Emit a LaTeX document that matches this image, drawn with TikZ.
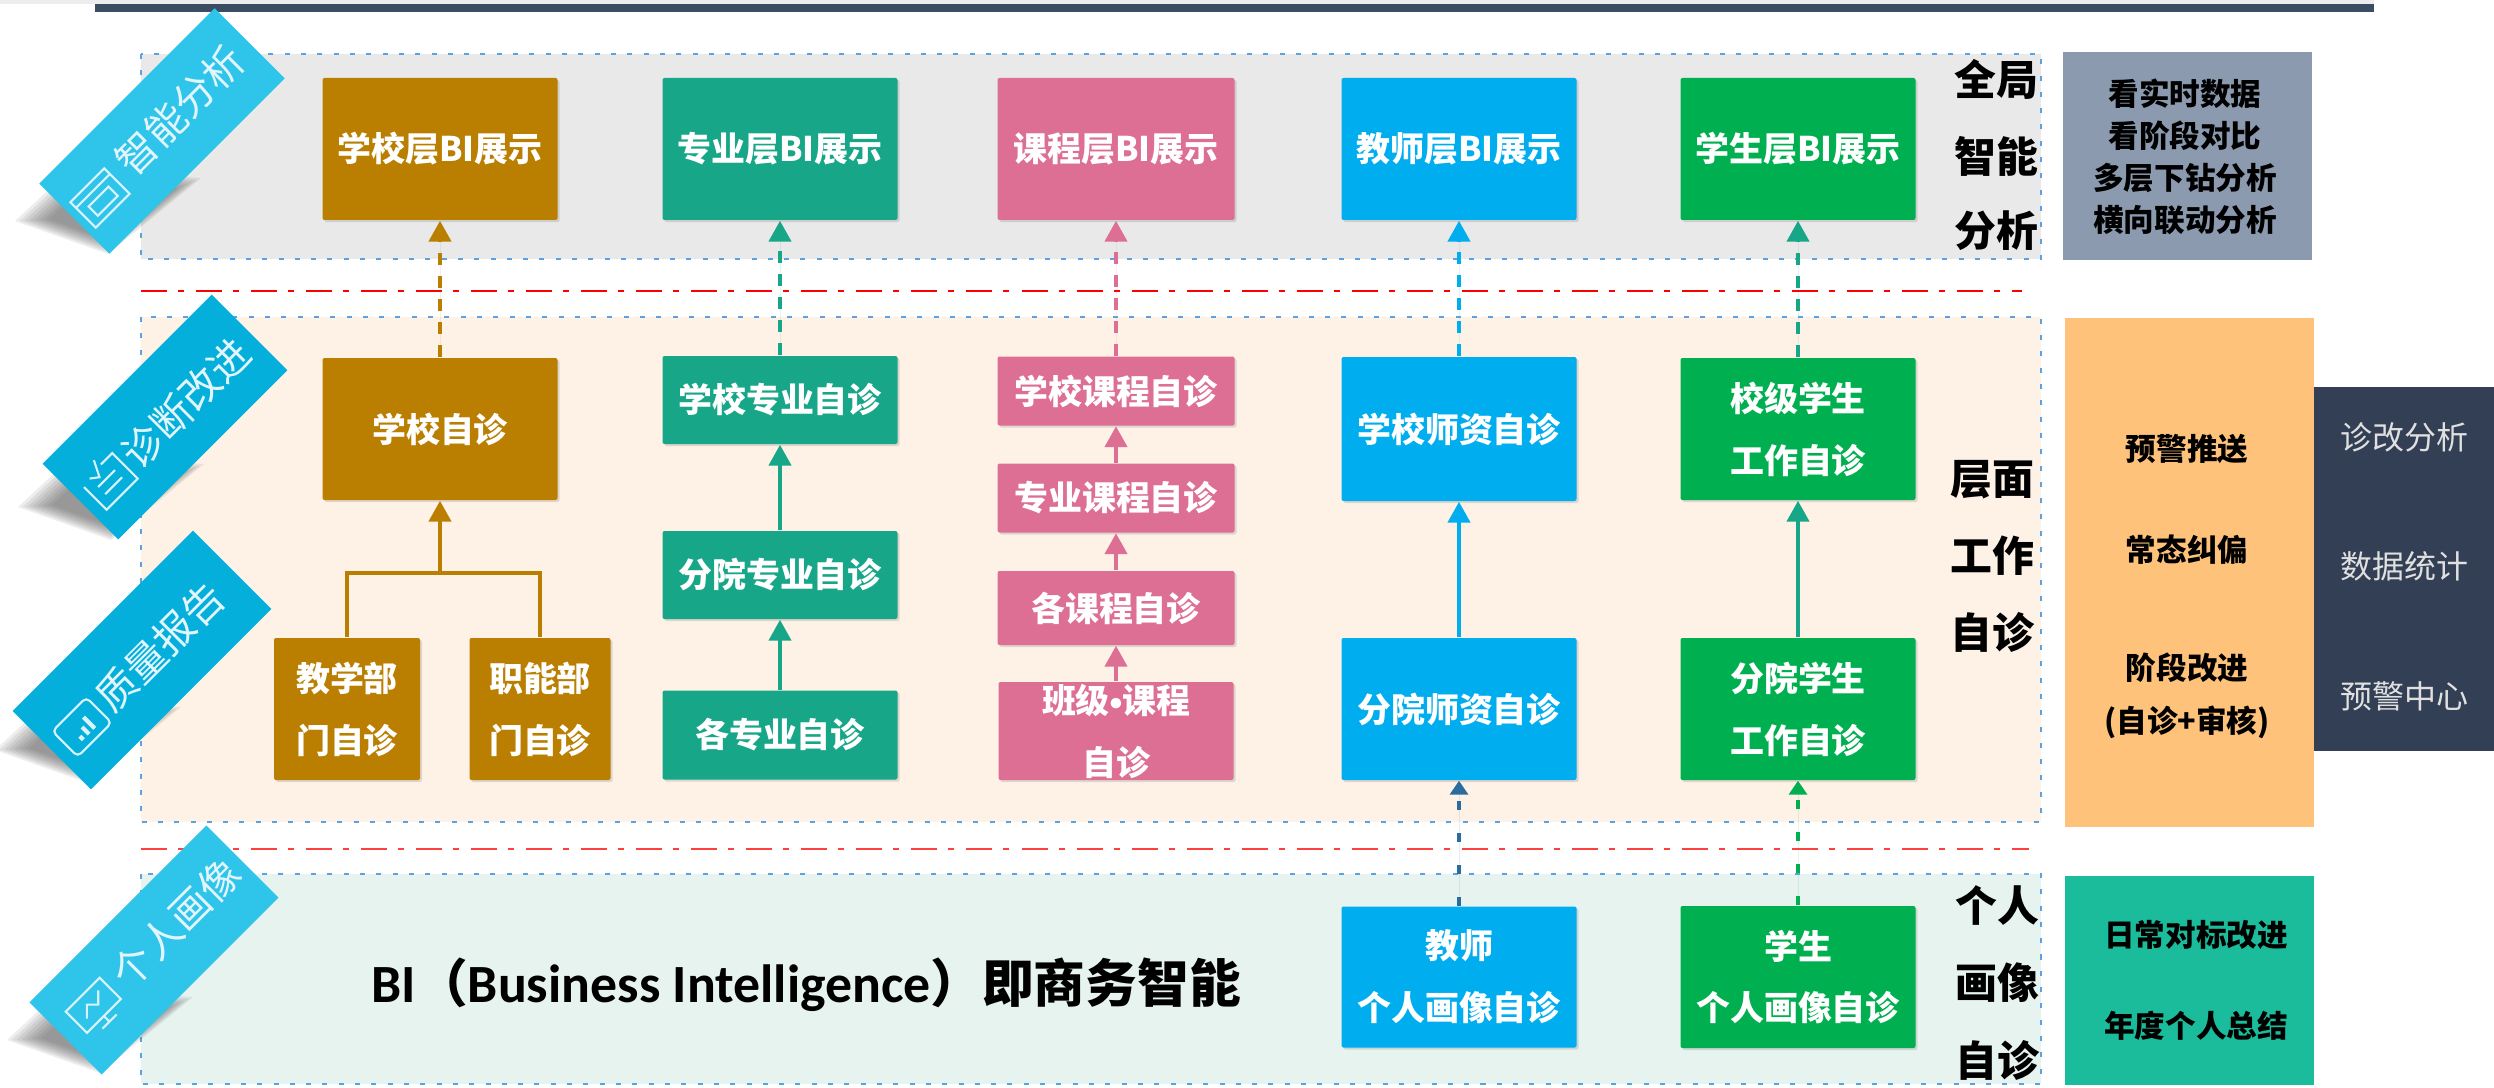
\documentclass[tikz,border=0pt]{standalone}
\usepackage{fontspec}
\setmainfont{Noto Sans CJK SC}
\newfontfamily\latinfont{Carlito}
\usetikzlibrary{arrows.meta,shadows}
\definecolor{brownbox}{HTML}{BA7F00}
\definecolor{tealbox}{HTML}{18A689}
\definecolor{pinkbox}{HTML}{DC6F93}
\definecolor{bluebox}{HTML}{00ADEF}
\definecolor{greenbox}{HTML}{00B050}
\definecolor{darkblue}{HTML}{2A6C9E}
\definecolor{ribbonA}{HTML}{2FC4EA}
\definecolor{ribbonB}{HTML}{05AFDB}
\definecolor{topbar}{HTML}{3B4D63}
\definecolor{panelgrey}{HTML}{E9E9E9}
\definecolor{panelcream}{HTML}{FEF2E7}
\definecolor{panelmint}{HTML}{E7F3EF}
\definecolor{dotblue}{HTML}{5BA3E0}
\definecolor{notegrey}{HTML}{8C9AB0}
\definecolor{noteorange}{HTML}{FFC27A}
\definecolor{notedark}{HTML}{323F54}
\definecolor{noteteal}{HTML}{1ABC9C}
\tikzset{
  wh/.style 2 args={minimum width=#1*.01cm, minimum height=#2*.01cm},
  dotline/.style={draw=dotblue, line width=.66pt, dash pattern=on .05cm off .113cm},
  redline/.style={line width=.75pt, dash pattern=on .26cm off .11cm on .06cm off .12cm},
  box/.style={rectangle, rounded corners=.02cm, inner sep=0pt, text=white, align=center,
    font=\bfseries\fontsize{9.65}{17.6}\selectfont,
    drop shadow={shadow xshift=.02cm, shadow yshift=-.02cm, opacity=.25, fill=gray}},
  sidetext/.style={inner sep=0pt, font=\bfseries\fontsize{11.9}{12}\selectfont},
  notetext/.style={inner sep=0pt, align=center, font=\bfseries\fontsize{8.7}{12}\selectfont},
  darktext/.style={inner sep=0pt, text=white!88!black, font=\fontsize{9.1}{11}\selectfont},
  ribbon/.style={rectangle, rotate=45, inner sep=0pt},
  ribbontext/.style={inner sep=0pt, rotate=45, text=white!88!cyan, font=\fontsize{11.5}{13}\selectfont},
  iconline/.style={draw=white!85!cyan, line width=.6pt},
  solidarrow/.style={-{Triangle[width=.22cm,length=.21cm]}, draw=#1, fill=#1, line width=1.25pt},
  dasharrow/.style={solidarrow=#1, dash pattern=on .12cm off .11cm},
  lowarrow/.style={-{Triangle[width=.18cm,length=.14cm]}, draw=#1, fill=#1, line width=1.25pt,
    dash pattern=on .09cm off .23cm}
}
\newcommand{\ribbonshadow}[2]{%
  \foreach \s in {1,.95,.9,.85,.8,.75,.7,.65}
    \fill[black!70, opacity=.1, shift={(#1,#2)}, scale around={\s:(-50,85)}]
      (-147,90) -- (-54,123) -- (39,47) -- (-92,39) -- cycle;}
\newcommand{\capword}[1]{{\latinfont\fontsize{15.3}{16}\selectfont #1}}
\begin{document}
\begin{tikzpicture}[x=.01cm,y=-.01cm]
  \useasboundingbox (0,0) rectangle (2494,1088);

  % Top bar
  \fill[black!7] (0,0) rectangle (2374,4);
  \fill[topbar] (95,4) rectangle (2374,12);

  % Layers
  \fill[panelgrey] (141,54) rectangle (2041,259);
  \draw[dotline] (141,54) rectangle (2041,259);
  \fill[panelcream] (141,317) rectangle (2041,822);
  \draw[dotline] (141,317) rectangle (2041,822);
  \fill[panelmint] (141,874) rectangle (2041,1084);
  \draw[dotline] (141,874) rectangle (2041,1084);

  % Separators
  \coordinate (sepA) at (141,291);
  \coordinate (sepB) at (2022,291);
  \coordinate (sepC) at (141,849);
  \coordinate (sepD) at (2029,849);
  \draw[redline, red] (sepA) -- (sepB);
  \draw[redline, red!75!white] (sepC) -- (sepD);

  % BI row
  \node[box, fill=brownbox, wh={235}{142}] (biSchool) at (440,149) {学校层BI展示};
  \node[box, fill=tealbox, wh={235}{142}] (biMajor) at (780,149) {专业层BI展示};
  \node[box, fill=pinkbox, wh={237}{142}] (biCourse) at (1116,149) {课程层BI展示};
  \node[box, fill=bluebox, wh={235}{142}] (biTeacher) at (1459,149) {教师层BI展示};
  \node[box, fill=greenbox, wh={235}{142}] (biStudent) at (1798,149) {学生层BI展示};

  % School column
  \node[box, fill=brownbox, wh={235}{142}] (school) at (440,429) {学校自诊};
  \node[box, fill=brownbox, wh={146}{142}] (teachDept) at (347,709) {教学部\\门自诊};
  \node[box, fill=brownbox, wh={141}{142}] (funcDept) at (540,709) {职能部\\门自诊};
  \coordinate (fork) at (440,573);

  % Major column
  \node[box, fill=tealbox, wh={235}{88}] (majorA) at (780,400) {学校专业自诊};
  \node[box, fill=tealbox, wh={235}{88}] (majorB) at (780,575) {分院专业自诊};
  \node[box, fill=tealbox, wh={235}{89}] (majorC) at (780,735) {各专业自诊};

  % Course column
  \node[box, fill=pinkbox, wh={237}{69}] (courseA) at (1116,391) {学校课程自诊};
  \node[box, fill=pinkbox, wh={237}{69}] (courseB) at (1116,498) {专业课程自诊};
  \node[box, fill=pinkbox, wh={237}{74}] (courseC) at (1116,608) {各课程自诊};
  \node[box, fill=pinkbox, wh={235}{98}] (courseD) at (1116,731)
    {班级\raisebox{.8pt}{\latinfont\fontsize{7}{7}\selectfont•}课程\\自诊};

  % Teacher column
  \node[box, fill=bluebox, wh={235}{144}] (teacherA) at (1459,429) {学校师资自诊};
  \node[box, fill=bluebox, wh={235}{142}] (teacherB) at (1459,709) {分院师资自诊};
  \node[box, fill=bluebox, wh={235}{141}] (teacherC) at (1459,977) {教师\\个人画像自诊};

  % Student column
  \node[box, fill=greenbox, wh={235}{142}] (studentA) at (1798,429) {校级学生\\工作自诊};
  \node[box, fill=greenbox, wh={235}{142}] (studentB) at (1798,709) {分院学生\\工作自诊};
  \node[box, fill=greenbox, wh={235}{142}] (studentC) at (1798,977) {学生\\个人画像自诊};

  % Arrows
  \draw[dasharrow=brownbox] (school) -- (biSchool);
  \draw[solidarrow=brownbox] (fork) -- (school);
  \draw[brownbox, line width=1.25pt] (teachDept.north) |- (fork) -| (funcDept.north);
  \draw[dasharrow=tealbox] (majorA) -- (biMajor);
  \draw[solidarrow=tealbox] (majorB) -- (majorA);
  \draw[solidarrow=tealbox] (majorC) -- (majorB);
  \draw[dasharrow=pinkbox] (courseA) -- (biCourse);
  \draw[solidarrow=pinkbox] (courseB) -- (courseA);
  \draw[solidarrow=pinkbox] (courseC) -- (courseB);
  \draw[solidarrow=pinkbox] (courseD) -- (courseC);
  \draw[dasharrow=bluebox] (teacherA) -- (biTeacher);
  \draw[solidarrow=bluebox] (teacherB) -- (teacherA);
  \draw[lowarrow=darkblue] (teacherC) -- (teacherB);
  \draw[dasharrow=tealbox] (studentA) -- (biStudent);
  \draw[solidarrow=tealbox] (studentB) -- (studentA);
  \draw[lowarrow=greenbox] (studentC) -- (studentB);

  % Caption
  \node[inner sep=0pt, anchor=west, font=\bfseries\fontsize{14.7}{16}\selectfont] (caption) at (371,985)
    {\capword{BI}（\capword{Business Intelligence}）即商务智能};

  % Layer names
  \node[sidetext] (globalA) at (1996,79) {全局};
  \node[sidetext] (globalB) at (1996,156) {智能};
  \node[sidetext] (globalC) at (1996,231) {分析};
  \node[sidetext] (levelA) at (1992,480) {层面};
  \node[sidetext] (levelB) at (1992,556) {工作};
  \node[sidetext] (levelC) at (1992,632) {自诊};
  \node[sidetext] (personA) at (1997,906) {个人};
  \node[sidetext] (personB) at (1997,983) {画像};
  \node[sidetext] (personC) at (1997,1060) {自诊};

  % Right side
  \node[fill=notegrey, wh={249}{208}, inner sep=0pt] (boxGlobal) at (2187.5,156) {};
  \node[notetext] (noteGlobal) at (2185,157) {看实时数据\\看阶段对比\\多层下钻分析\\横向联动分析};
  \node[fill=noteorange, wh={249}{509}, inner sep=0pt] (boxLevel) at (2189.5,572.5) {};
  \node[notetext] (noteA) at (2187,449) {预警推送};
  \node[notetext] (noteB) at (2187,550) {常态纠偏};
  \node[notetext] (noteC) at (2187,668) {阶段改进};
  \node[notetext] (noteD) at (2187,722) {(自诊+审核)};
  \node[fill=notedark, wh={180}{364}, inner sep=0pt] (boxDark) at (2404,569) {};
  \node[darktext] (darkA) at (2404,437) {诊改分析};
  \node[darktext] (darkB) at (2404,566) {数据统计};
  \node[darktext] (darkC) at (2404,696) {预警中心};
  \node[fill=noteteal, wh={249}{209}, inner sep=0pt] (boxPerson) at (2189.5,980.5) {};
  \node[notetext] (noteE) at (2196,935) {日常对标改进};
  \node[notetext] (noteF) at (2196,1026) {年度个人总结};

  % Ribbons
  \ribbonshadow{162}{131}
  \ribbonshadow{165}{417}
  \ribbonshadow{142}{660}
  \ribbonshadow{154}{950}
  \node[ribbon, fill=ribbonA, wh={248}{99}] (ribbonAna) at (162,131) {};
  \node[ribbon, fill=ribbonB, wh={239}{107}] (ribbonDiag) at (165,417) {};
  \node[ribbon, fill=ribbonB, wh={255}{111}] (ribbonRep) at (142,660) {};
  \node[ribbon, fill=ribbonA, wh={250}{102}] (ribbonPer) at (154,950) {};
  \node[ribbontext] (labelAna) at (180,110) {智能分析};
  \node[ribbontext] (labelDiag) at (186,403) {诊断改进};
  \node[ribbontext] (labelRep) at (160,647) {质量报告};
  \node[ribbontext] (labelPer) at (176,923) {个人画像};

  % Ribbon icons
  \begin{scope}[shift={(100,198)},rotate=45]
    \draw[iconline] (-24,-18) rectangle (24,18);
    \draw[iconline] (-24,-10) -- (24,-10);
    \draw[iconline] (-14,-2) rectangle (14,11);
  \end{scope}
  \begin{scope}[shift={(108,480)},rotate=45]
    \draw[iconline] (-22,-12) -- (-22,20) -- (22,20) -- (22,-16) -- (6,-16);
    \draw[iconline] (-12,8) -- (12,8) (-12,-2) -- (12,-2);
    \draw[iconline] (-12,-14) -- (-4,-8) -- (4,-24);
  \end{scope}
  \begin{scope}[shift={(82,727)},rotate=45]
    \draw[iconline, rounded corners=.05cm] (-24,-18) rectangle (24,18);
    \draw[iconline, line width=1.2pt] (-8,10) -- (-8,5) (0,10) -- (0,0) (8,10) -- (8,-6);
  \end{scope}
  \begin{scope}[shift={(94,1006)},rotate=45]
    \draw[iconline] (-24,-16) rectangle (24,14);
    \draw[iconline] (-14,4) -- (-4,-6) -- (4,2) -- (14,-8);
    \draw[iconline] (0,14) -- (0,22) (-10,22) -- (10,22);
  \end{scope}
\end{tikzpicture}
\end{document}
